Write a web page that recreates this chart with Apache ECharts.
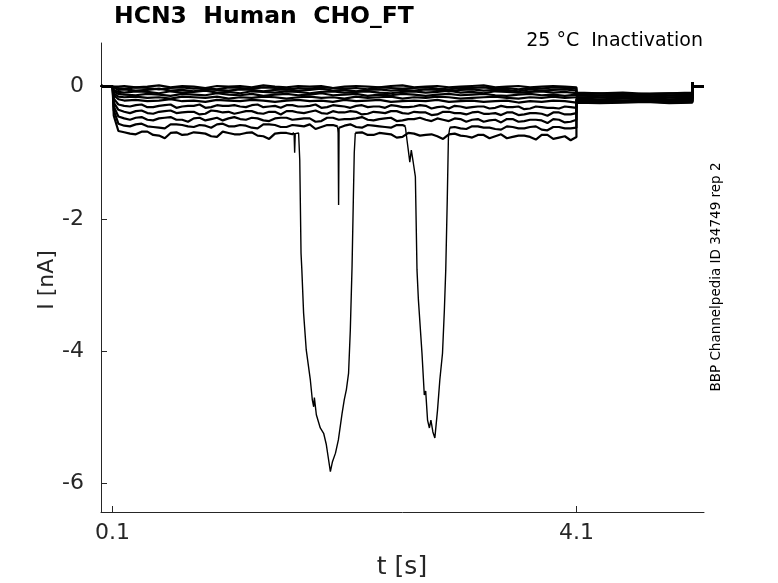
<!DOCTYPE html>
<html>
<head>
<meta charset="utf-8">
<script src="https://cdn.jsdelivr.net/npm/echarts@6/dist/echarts.min.js"></script>
<style>
html,body{margin:0;padding:0;background:#fff;}
#chart{width:778px;height:583px;}
</style>
</head>
<body>
<div id="chart"></div>
<script>
// ---- data ----
const xTicks = [0.1, 4.1];
const yTicks = [-6, -4, -2, 0];

const holdTimes = [0, 0.02, 0.1];
const holdCurrents = [0.02, 0, 0];

const stepTimes = [0.11,0.15,0.2,0.3,0.4,0.5,0.6,0.7,0.8,0.9,1.0,1.1,1.2,1.3,1.4,1.5,1.6,1.7,1.8,1.9,2.0,2.1,2.2,2.3,2.4,2.5,2.6,2.7,2.8,2.9,3.0,3.1,3.2,3.3,3.4,3.5,3.6,3.7,3.8,3.9,4.0,4.1];
const stepMidTimes = [0.25,0.35,0.45,0.55,0.65,0.75,0.85,0.95,1.05,1.15,1.25,1.35,1.45,1.55,1.65,1.75,1.85,1.95,2.05,2.15,2.25,2.35,2.45,2.55,2.65,2.75,2.85,2.95,3.05,3.15,3.25,3.35,3.45,3.55,3.65,3.75,3.85,3.95,4.05];

const trace0 = [-0.01,0.00, 0.01,-0.01,0.00,0.02,-0.01,0.01,0.00,-0.02,0.01,0.00, 0.01,-0.01,0.02,0.00,-0.01,0.01,0.00,0.01,-0.02,0.00, 0.01,0.00,-0.01,0.01,0.02,-0.01,0.00,0.01,-0.01,0.00, 0.01,0.02,-0.01,0.00,0.01,-0.01,0.00,0.01,0.00,-0.01];
const trace1 = [-0.01,-0.02, -0.03,-0.01,-0.02,-0.04,-0.02,-0.01,-0.03,-0.02,-0.04,-0.01, -0.02,-0.03,-0.01,-0.02,-0.04,-0.02,-0.03,-0.01,-0.02,-0.03, -0.02,-0.04,-0.01,-0.02,-0.03,-0.02,-0.01,-0.03,-0.04,-0.02, -0.02,-0.01,-0.03,-0.02,-0.04,-0.02,-0.03,-0.01,-0.02,-0.03];
const trace2 = [-0.03,-0.05, -0.04,-0.06,-0.05,-0.03,-0.06,-0.05,-0.07,-0.04,-0.05,-0.06, -0.04,-0.05,-0.07,-0.05,-0.04,-0.06,-0.05,-0.03,-0.06,-0.05, -0.07,-0.05,-0.04,-0.06,-0.05,-0.06,-0.04,-0.05,-0.07,-0.05, -0.04,-0.06,-0.05,-0.05,-0.07,-0.04,-0.06,-0.05,-0.04,-0.06];
const trace3 = [-0.05,-0.08, -0.09,-0.07,-0.08,-0.10,-0.07,-0.09,-0.08,-0.06,-0.09,-0.08, -0.10,-0.07,-0.08,-0.09,-0.07,-0.08,-0.10,-0.08,-0.07,-0.09, -0.08,-0.07,-0.09,-0.10,-0.08,-0.07,-0.09,-0.08,-0.06,-0.09, -0.08,-0.10,-0.07,-0.08,-0.09,-0.08,-0.07,-0.09,-0.08,-0.10];
const trace4 = [-0.07,-0.11, -0.12,-0.13,-0.11,-0.12,-0.14,-0.11,-0.12,-0.13,-0.10,-0.12, -0.13,-0.11,-0.14,-0.12,-0.11,-0.13,-0.12,-0.10,-0.13,-0.12, -0.11,-0.14,-0.12,-0.13,-0.11,-0.12,-0.14,-0.12,-0.11,-0.13, -0.12,-0.11,-0.13,-0.14,-0.12,-0.11,-0.13,-0.12,-0.14,-0.12];
const trace5 = [-0.10,-0.15, -0.16,-0.15,-0.17,-0.16,-0.18,-0.15,-0.16,-0.17,-0.15,-0.18, -0.16,-0.17,-0.15,-0.16,-0.18,-0.16,-0.15,-0.17,-0.16,-0.18, -0.15,-0.17,-0.16,-0.15,-0.18,-0.16,-0.17,-0.15,-0.16,-0.18, -0.17,-0.16,-0.15,-0.17,-0.18,-0.16,-0.17,-0.15,-0.17,-0.16];
const trace6 = [-0.13,-0.19, -0.21,-0.20,-0.22,-0.21,-0.19,-0.22,-0.21,-0.23,-0.20,-0.21, -0.22,-0.20,-0.21,-0.23,-0.21,-0.20,-0.22,-0.21,-0.23,-0.20, -0.22,-0.21,-0.20,-0.23,-0.22,-0.21,-0.22,-0.20,-0.23,-0.22, -0.21,-0.23,-0.22,-0.21,-0.24,-0.22,-0.23,-0.21,-0.22,-0.24];
const trace7 = [-0.18,-0.27, -0.29,-0.28,-0.31,-0.29,-0.27,-0.30,-0.29,-0.32,-0.28,-0.29, -0.30,-0.28,-0.31,-0.29,-0.28,-0.30,-0.29,-0.32,-0.28,-0.30, -0.29,-0.31,-0.30,-0.28,-0.31,-0.30,-0.29,-0.31,-0.33,-0.30, -0.31,-0.30,-0.32,-0.31,-0.30,-0.33,-0.31,-0.32,-0.30,-0.32];
const trace8 = [-0.24,-0.35, -0.38,-0.37,-0.40,-0.38,-0.36,-0.39,-0.38,-0.41,-0.37,-0.38, -0.39,-0.37,-0.41,-0.38,-0.37,-0.39,-0.38,-0.40,-0.37,-0.39, -0.38,-0.41,-0.39,-0.37,-0.40,-0.38,-0.39,-0.42,-0.38,-0.40, -0.39,-0.41,-0.40,-0.39,-0.43,-0.40,-0.41,-0.39,-0.42,-0.40];
const trace9 = [-0.30,-0.45, -0.48,-0.47,-0.50,-0.48,-0.46,-0.50,-0.48,-0.51,-0.47,-0.48, -0.49,-0.47,-0.51,-0.48,-0.47,-0.49,-0.48,-0.52,-0.47,-0.49, -0.48,-0.50,-0.49,-0.47,-0.51,-0.49,-0.50,-0.48,-0.52,-0.49, -0.50,-0.53,-0.50,-0.49,-0.53,-0.50,-0.51,-0.49,-0.54,-0.50];
const trace10 = [-0.36,-0.56, -0.59,-0.57,-0.60,-0.62,-0.57,-0.58,-0.61,-0.59,-0.57,-0.60, -0.58,-0.62,-0.57,-0.58,-0.61,-0.59,-0.57,-0.61,-0.58,-0.59, -0.61,-0.58,-0.60,-0.62,-0.58,-0.61,-0.59,-0.62,-0.60,-0.63, -0.60,-0.62,-0.64,-0.60,-0.63,-0.61,-0.65,-0.61,-0.63,-0.62];
const trace11 = [-0.44,-0.67, -0.69,-0.72,-0.68,-0.74,-0.70,-0.73,-0.69,-0.71,-0.76,-0.70, -0.72,-0.69,-0.75,-0.71,-0.70,-0.70,-0.71,-0.72,-0.70,-0.71, -0.70,-0.73,-0.70,-0.72,-0.76,-0.71,-0.73,-0.75,-0.72,-0.74, -0.77,-0.73,-0.75,-0.78,-0.74,-0.76,-0.73,-0.79,-0.75,-0.76];

// extra noise samples between grid points for the lower, well separated traces
const mid7 = [-0.30,-0.27,-0.31,-0.28,-0.32,-0.29,-0.27,-0.31,-0.29,-0.28, -0.31,-0.27,-0.30,-0.32,-0.28,-0.30,-0.27,-0.31,-0.29,-0.32, -0.28,-0.30,-0.32,-0.29,-0.31,-0.28,-0.33,-0.30,-0.29,-0.32, -0.30,-0.33,-0.29,-0.31,-0.34,-0.30,-0.32,-0.33,-0.31];
const mid8 = [-0.40,-0.36,-0.41,-0.37,-0.40,-0.38,-0.42,-0.36,-0.39,-0.41, -0.37,-0.40,-0.38,-0.42,-0.37,-0.40,-0.36,-0.41,-0.39,-0.37, -0.42,-0.38,-0.40,-0.37,-0.41,-0.39,-0.43,-0.38,-0.40,-0.42, -0.38,-0.41,-0.43,-0.39,-0.42,-0.40,-0.44,-0.39,-0.42];
const mid9 = [-0.50,-0.46,-0.51,-0.47,-0.50,-0.53,-0.47,-0.49,-0.51,-0.46, -0.50,-0.48,-0.52,-0.47,-0.50,-0.48,-0.53,-0.47,-0.50,-0.49, -0.46,-0.51,-0.48,-0.52,-0.49,-0.47,-0.52,-0.50,-0.48,-0.53, -0.49,-0.51,-0.54,-0.49,-0.52,-0.50,-0.55,-0.50,-0.53];
const mid10 = [-0.60,-0.56,-0.61,-0.63,-0.57,-0.60,-0.58,-0.62,-0.56,-0.60, -0.59,-0.63,-0.57,-0.61,-0.58,-0.60,-0.64,-0.58,-0.60,-0.57, -0.62,-0.59,-0.61,-0.58,-0.63,-0.60,-0.62,-0.59,-0.61,-0.64, -0.60,-0.62,-0.65,-0.61,-0.63,-0.60,-0.66,-0.61,-0.63];
const mid11 = [-0.71,-0.68,-0.73,-0.78,-0.69,-0.72,-0.70,-0.75,-0.68,-0.72, -0.70,-0.74,-0.79,-0.70,-0.72,-0.71,-0.73,-0.70,-0.72,-0.71, -0.69,-0.73,-0.71,-0.77,-0.70,-0.74,-0.72,-0.79,-0.71,-0.75, -0.73,-0.78,-0.72,-0.76,-0.74,-0.80,-0.73,-0.77,-0.81];

const tailTimes = [4.1, 4.3, 4.5, 4.7, 4.9, 5.1];
const tail0 = [-0.09,-0.10,-0.09,-0.11,-0.10,-0.09];
const tail1 = [-0.11,-0.10,-0.12,-0.11,-0.10,-0.11];
const tail2 = [-0.12,-0.13,-0.12,-0.11,-0.13,-0.12];
const tail3 = [-0.14,-0.13,-0.14,-0.15,-0.13,-0.14];
const tail4 = [-0.15,-0.16,-0.15,-0.14,-0.16,-0.15];
const tail5 = [-0.17,-0.16,-0.17,-0.18,-0.16,-0.17];
const tail6 = [-0.18,-0.19,-0.18,-0.17,-0.19,-0.18];
const tail7 = [-0.19,-0.20,-0.21,-0.19,-0.20,-0.19];
const tail8 = [-0.21,-0.20,-0.22,-0.21,-0.20,-0.21];
const tail9 = [-0.22,-0.23,-0.21,-0.22,-0.23,-0.22];
const tail10 = [-0.23,-0.24,-0.23,-0.22,-0.24,-0.23];
const tail11 = [-0.24,-0.25,-0.24,-0.23,-0.25,-0.24];

const endTimes = [5.1, 5.105, 5.2];
const endCurrents = [0.07, 0.0, 0.0];

// large inward events (time s, current nA)
const dip1Times = [1.665,1.670,1.675,1.704,1.714,1.725,1.732,1.747,1.770,1.805,1.822,1.834,1.840,1.857,1.891,1.920,1.943,1.960,1.978,1.996,2.022,2.047,2.079,2.098,2.116,2.135,2.150,2.165,2.176,2.184,2.193];
const dip1Currents = [-0.70,-1.00,-0.71,-0.70,-1.11,-2.52,-2.77,-3.42,-3.98,-4.43,-4.73,-4.84,-4.70,-4.96,-5.16,-5.24,-5.41,-5.61,-5.82,-5.67,-5.54,-5.34,-4.94,-4.73,-4.58,-4.33,-3.68,-2.72,-1.71,-1.00,-0.70];
const spikeTimes = [2.040, 2.045, 2.049, 2.053];
const spikeCurrents = [-0.60, -0.70, -1.79, -0.62];
const dip2Times = [2.624,2.639,2.650,2.663,2.676,2.693,2.711,2.725,2.737,2.768,2.788,2.800,2.816,2.832,2.845,2.862,2.879,2.902,2.922,2.945,2.961,2.973,2.986,2.996,3.008];
const dip2Currents = [-0.60,-0.81,-0.96,-1.14,-0.96,-1.15,-1.36,-2.77,-3.22,-4.03,-4.66,-4.60,-5.04,-5.16,-5.04,-5.22,-5.31,-4.89,-4.43,-4.03,-3.38,-2.77,-1.71,-0.76,-0.62];

const stepTraces = [trace0,trace1,trace2,trace3,trace4,trace5,trace6,trace7,trace8,trace9,trace10,trace11];
const midTraces = {7:mid7, 8:mid8, 9:mid9, 10:mid10, 11:mid11};
const tailTraces = [tail0,tail1,tail2,tail3,tail4,tail5,tail6,tail7,tail8,tail9,tail10,tail11];
const eventList = [
  {trace:11, times:dip1Times, currents:dip1Currents},
  {trace:10, times:spikeTimes, currents:spikeCurrents},
  {trace:10, times:dip2Times, currents:dip2Currents}
];

function zip(ts, vs){ return ts.map((t,i)=>[t, vs[i]]); }

function buildTrace(k){
  let step = zip(stepTimes, stepTraces[k]);
  if (midTraces[k]) step = step.concat(zip(stepMidTimes, midTraces[k]));
  eventList.filter(e=>e.trace===k).forEach(e=>{
    const n = e.times.length;
    const a = e.times[0], b = e.times[n-1];
    step = step.filter(p => p[0] < a || p[0] > b);
    // base trace runs up to the event, breaks, resumes after it
    step.push([a, e.currents[0]], [(a+b)/2, null], [b, e.currents[n-1]]);
  });
  step.sort((p,q)=>p[0]-q[0]);
  return zip(holdTimes, holdCurrents).concat(step, zip(tailTimes, tailTraces[k]), zip(endTimes, endCurrents));
}

const chart = echarts.init(document.getElementById('chart'), null, {renderer:'canvas'});
const axisColor = '#262626';
const FONT = 'DejaVu Sans';

const series = stepTraces.map((_,k)=>({
  type:'line',
  data: buildTrace(k),
  showSymbol:false,
  symbol:'none',
  connectNulls:false,
  lineStyle:{color:'#000', width:2.2},
  animation:false,
  silent:true
})).concat(eventList.map(e=>({
  type:'line',
  data: zip(e.times, e.currents),
  showSymbol:false,
  symbol:'none',
  lineStyle:{color:'#000', width:1.4},
  animation:false,
  silent:true
})));

chart.setOption({
  animation:false,
  backgroundColor:'#fff',
  grid:{left:101, right:74, top:43, bottom:71, containLabel:false},
  xAxis:{
    type:'value', min:0, max:5.2,
    axisLine:{show:true, onZero:false, lineStyle:{color:axisColor, width:1}},
    axisTick:{show:true, inside:true, length:6, customValues:xTicks, lineStyle:{color:axisColor}},
    axisLabel:{customValues:xTicks, fontSize:22, color:axisColor, fontFamily:FONT, margin:10, formatter:v=>String(v)},
    splitLine:{show:false}
  },
  yAxis:{
    type:'value', min:-6.43, max:0.66,
    axisLine:{show:true, onZero:false, lineStyle:{color:axisColor, width:1}},
    axisTick:{show:true, inside:true, length:6, customValues:yTicks, lineStyle:{color:axisColor}},
    axisLabel:{customValues:yTicks, fontSize:22, color:axisColor, fontFamily:FONT, margin:17, formatter:v=>String(v)},
    splitLine:{show:false}
  },
  graphic:[
    {type:'text', left:114, top:5, style:{text:'HCN3  Human  CHO_FT', fontSize:23.5, fontWeight:'bold', fontFamily:FONT, fill:'#000'}},
    {type:'text', x:703, y:41, style:{text:'25 °C  Inactivation', fontSize:19, fontFamily:FONT, fill:'#000', align:'right', verticalAlign:'middle'}},
    {type:'text', x:716, y:277, rotation:Math.PI/2, style:{text:'BBP Channelpedia ID 34749 rep 2', fontSize:13.5, fontFamily:FONT, fill:'#000', align:'center', verticalAlign:'middle'}},
    {type:'text', x:47, y:280, rotation:Math.PI/2, style:{text:'I [nA]', fontSize:22, fontFamily:FONT, fill:axisColor, align:'center', verticalAlign:'middle'}},
    {type:'text', x:402, y:567, style:{text:'t [s]', fontSize:25, fontFamily:FONT, fill:axisColor, align:'center', verticalAlign:'middle'}}
  ],
  series: series
});
</script>
</body>
</html>
